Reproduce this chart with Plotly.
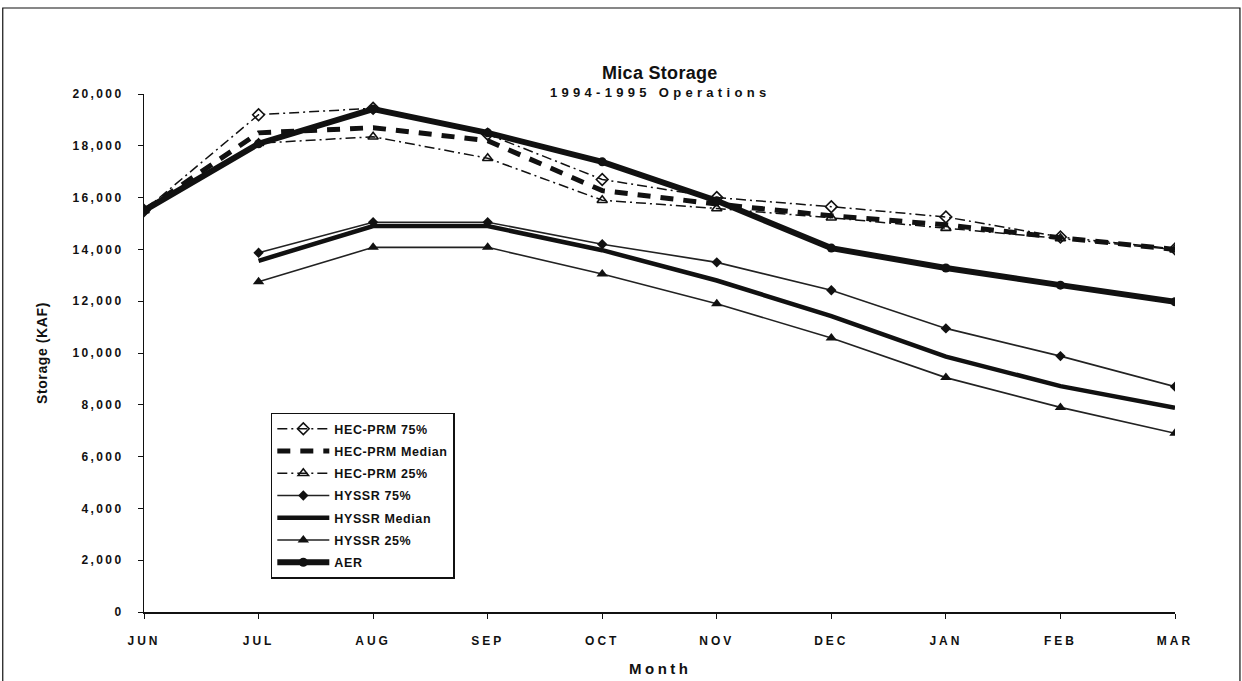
import plotly.graph_objects as go

months = ["JUN", "JUL", "AUG", "SEP", "OCT", "NOV", "DEC", "JAN", "FEB", "MAR"]

hec_75 = [15500, 19200, 19450, 18450, 16700, 16000, 15650, 15250, 14480, 14020]
hec_med = [15500, 18500, 18700, 18200, 16270, 15750, 15300, 14950, 14450, 14000]
hec_25 = [15500, 18100, 18350, 17520, 15900, 15580, 15220, 14820, 14420, 13990]
hyssr_75 = [None, 13870, 15050, 15050, 14200, 13500, 12420, 10950, 9880, 8700]
hyssr_med = [None, 13560, 14900, 14900, 13970, 12800, 11420, 9860, 8720, 7880]
hyssr_25 = [None, 12750, 14080, 14080, 13050, 11900, 10580, 9050, 7900, 6900]
aer = [15500, 18080, 19420, 18500, 17380, 15880, 14050, 13280, 12620, 11980]

names = ["HEC-PRM 75%", "HEC-PRM Median", "HEC-PRM 25%", "HYSSR 75%",
         "HYSSR Median", "HYSSR 25%", "AER"]
y_ticks = [0, 2000, 4000, 6000, 8000, 10000, 12000, 14000, 16000, 18000, 20000]

BLK = "#111111"
FONT = "Liberation Sans"


def sp(t, s):
    return '<span style="letter-spacing:%gpx">%s</span>' % (s, t)


series = [hec_75, hec_med, hec_25, hyssr_75, hyssr_med, hyssr_25, aer]
styles = [
    dict(line=dict(color=BLK, width=1.5, dash="10px,4px,2px,4px"),
         marker=dict(symbol="diamond-open", size=9, color=BLK, line=dict(width=1.6, color=BLK)),
         mode="lines+markers"),
    dict(line=dict(color=BLK, width=5, dash="13px,10px"), mode="lines"),
    dict(line=dict(color=BLK, width=1.5, dash="10px,4px,2px,4px"),
         marker=dict(symbol="triangle-up-open", size=9, color=BLK, line=dict(width=1.6, color=BLK)),
         mode="lines+markers"),
    dict(line=dict(color="#222222", width=1.6),
         marker=dict(symbol="diamond", size=8, color=BLK),
         mode="lines+markers"),
    dict(line=dict(color=BLK, width=4.5), mode="lines"),
    dict(line=dict(color="#222222", width=1.6),
         marker=dict(symbol="triangle-up", size=10, color=BLK),
         mode="lines+markers"),
    dict(line=dict(color=BLK, width=6),
         marker=dict(symbol="circle", size=9, color=BLK),
         mode="lines+markers"),
]

fig = go.Figure()
for i, (name, vals, st) in enumerate(zip(names, series, styles)):
    fig.add_trace(go.Scatter(x=months, y=vals, name=sp(name, 0.6),
                             legendgroup="g%d" % i, connectgaps=False, **st))

fig.update_layout(
    width=1242, height=681,
    margin=dict(l=144, r=67, t=94, b=69, autoexpand=False),
    paper_bgcolor="white", plot_bgcolor="white",
    font=dict(family=FONT, color=BLK, size=12, weight="bold"),
    showlegend=True,
    legend=dict(x=0.123, y=0.385, xanchor="left", yanchor="top",
                bgcolor="white", bordercolor=BLK, borderwidth=1.5,
                font=dict(family=FONT, size=12.5, weight="bold", color=BLK),
                itemwidth=52, tracegroupgap=3, traceorder="grouped",
                groupclick="toggleitem"),
    xaxis=dict(type="category", range=[0, len(months) - 1],
               tickvals=months, ticktext=[sp(m, 3) for m in months],
               showline=True, linecolor=BLK, linewidth=1.5, mirror=False,
               ticks="outside", ticklen=5, tickcolor=BLK, tickwidth=1.2,
               ticklabelstandoff=12, showgrid=False, zeroline=False,
               automargin=False,
               tickfont=dict(size=12, family=FONT, weight="bold")),
    yaxis=dict(range=[0, 20000], tickvals=y_ticks,
               ticktext=[sp(f"{v:,}", 2.4) for v in y_ticks],
               showline=True, linecolor=BLK, linewidth=1.2,
               ticks="outside", ticklen=5, tickcolor=BLK, tickwidth=1.2,
               ticklabelstandoff=12, showgrid=False, zeroline=False,
               automargin=False,
               tickfont=dict(size=12, family=FONT, weight="bold")),
    annotations=[
        dict(text=sp("Mica Storage", 0.3), xref="paper", yref="paper",
             x=0.5, y=1.0, yshift=33, showarrow=False,
             font=dict(size=18, family=FONT, weight="bold")),
        dict(text=sp("1994-1995 Operations", 4.3), xref="paper", yref="paper",
             x=0.5, y=1.0, yshift=11, showarrow=False,
             font=dict(size=13, family=FONT, weight="bold")),
        dict(text=sp("Month", 3.5), xref="paper", yref="paper",
             x=0.5, y=0.0, yshift=-56, yanchor="middle", showarrow=False,
             font=dict(size=15, family=FONT, weight="bold")),
        dict(text=sp("Storage (KAF)", 0.6), xref="paper", yref="paper",
             x=0.0, y=0.5, xshift=-102, xanchor="center", yanchor="middle",
             textangle=-90, showarrow=False,
             font=dict(size=14, family=FONT, weight="bold")),
    ],
    shapes=[dict(type="rect", xref="paper", yref="paper",
                 x0=-0.137, x1=1.063, y0=-0.2, y1=1.166,
                 line=dict(color=BLK, width=1.2))],
)

fig.write_html("out.html", config={"displayModeBar": False},
               post_script="document.body.style.margin='0';"
                           "document.body.style.overflow='hidden';")
